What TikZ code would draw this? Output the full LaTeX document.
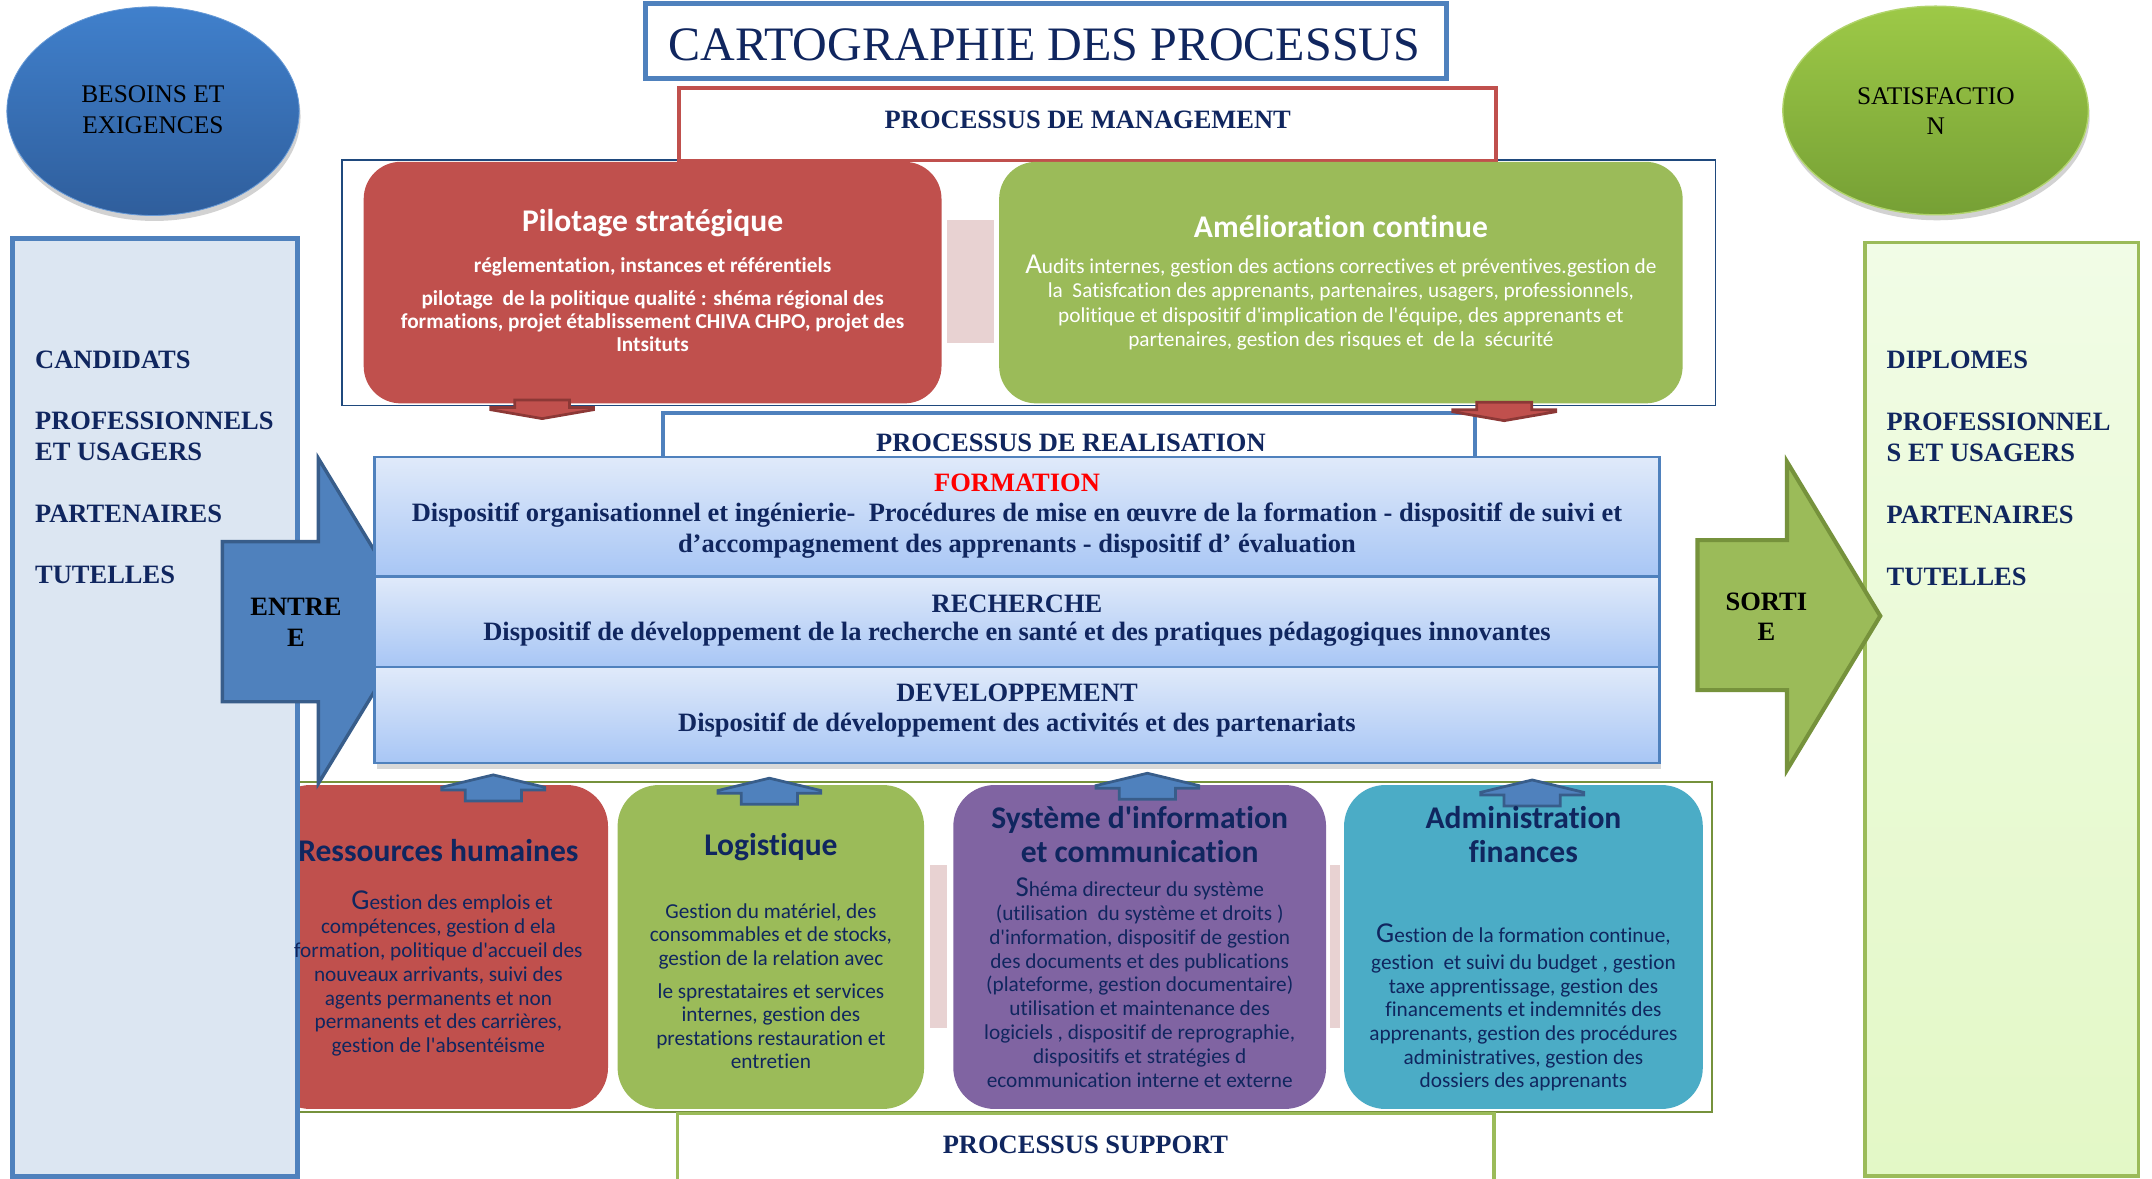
\documentclass[tikz,border=0pt]{standalone}
\usepackage{fontspec}
\setmainfont{Liberation Serif}
\newfontfamily\calfont[Ligatures={NoCommon}]{Carlito}
\usetikzlibrary{shadows,shapes.geometric}
\definecolor{cRed}{HTML}{C0504D}
\definecolor{cRedD}{HTML}{8C3836}
\definecolor{cGreen}{HTML}{9BBB59}
\definecolor{cGreenD}{HTML}{76923C}
\definecolor{cBlue}{HTML}{4F81BD}
\definecolor{cBlueD}{HTML}{385D8A}
\definecolor{cPurple}{HTML}{8064A2}
\definecolor{cTeal}{HTML}{4BACC6}
\definecolor{cPink}{HTML}{E8D2D2}
\definecolor{cNavy}{HTML}{10265F}
\definecolor{cFrame}{HTML}{1F497D}
\definecolor{cLeft}{HTML}{DCE6F2}
\definecolor{cRedT}{HTML}{FF0000}
\definecolor{cBandT}{HTML}{E0EAFA}
\definecolor{cBandB}{HTML}{A8C6F5}
\definecolor{cEllLT}{HTML}{4080CC}
\definecolor{cEllLB}{HTML}{2F5E9C}
\definecolor{cEllRT}{HTML}{9DC947}
\definecolor{cEllRB}{HTML}{76A035}
\definecolor{cRightT}{HTML}{F1FCE6}
\definecolor{cRightB}{HTML}{E3F8C6}
\newcommand\BigL[1]{{\fontsize{21}{17}\selectfont #1}}
\begin{document}
\begin{tikzpicture}[x=1pt,y=-1pt,
  box/.style={rectangle, inner sep=0pt, outer sep=0pt},
  rbox/.style={box, rounded corners=27pt, draw=none},
  bandbox/.style={box, draw=cBlue, line width=1.8pt, top color=cBandT, bottom color=cBandB, minimum width=936pt},
  hdr/.style={inner sep=0pt, font=\fontsize{19.3}{22.5}\selectfont\bfseries, text=cNavy},
  side/.style={inner sep=0pt, align=left, anchor=west, font=\fontsize{19.3}{22.5}\selectfont\bfseries, text=cNavy},
  elltxt/.style={inner sep=0pt, align=center, font=\fontsize{18.5}{22}\selectfont, text=black},
  arrtxt/.style={inner sep=0pt, align=center, font=\fontsize{19.3}{22.5}\selectfont\bfseries, text=black},
  ttlC/.style={inner sep=0pt, font=\calfont\fontsize{23}{24.8}\selectfont\bfseries, text height=17pt, text depth=5pt},
  ttlCC/.style={inner sep=0pt, align=center, font=\calfont\fontsize{23}{24.8}\selectfont\bfseries},
  redarr/.style={fill=cRed, draw=cRedD, line width=2pt, line join=miter},
  bluearr/.style={fill=cBlue, draw=cBlueD, line width=2pt, line join=miter},
  uparr/.pic={\draw[bluearr] (-20.5,8) -- (-20.5,0) -- (-37.5,0) -- (-37.5,-2) -- (0,-11) -- (37.5,-2) -- (37.5,0) -- (20.5,0) -- (20.5,8) -- cycle;},
  downarr/.pic={\draw[redarr] (-20,-5.5) -- (20,-5.5) -- (20,0) -- (37.5,0) -- (37.5,1.5) -- (0,8) -- (-37.5,1.5) -- (-37.5,0) -- (-20,0) -- cycle;}
]
\useasboundingbox (0,0) rectangle (1568,859);
\fill[white] (0,0) rectangle (1568,859);

% ellipses
\node[ellipse, inner sep=0pt, minimum width=213pt, minimum height=152pt, top color=cEllLT, bottom color=cEllLB, draw=cEllLT!80!white, line width=0.6pt, drop shadow={opacity=0.35, shadow xshift=1pt, shadow yshift=-4pt}] (besoins) at (111.5,81) {};
\node[ellipse, inner sep=0pt, minimum width=222.6pt, minimum height=152pt, top color=cEllRT, bottom color=cEllRB, draw=cEllRT!80!white, line width=1pt, drop shadow={opacity=0.35, shadow xshift=1pt, shadow yshift=-4pt}] (satisf) at (1410.3,80.5) {};

% title
\node[box, draw=cBlue, line width=3.6pt, fill=white, minimum width=584pt, minimum height=54.6pt] (titlebox) at (762,29.7) {};

% management
\node[box, draw=cFrame, line width=1.2pt, minimum width=1001pt, minimum height=179pt] (mgframe) at (749.5,206) {};
\node[box, draw=cRed, line width=2.8pt, fill=white, minimum width=595pt, minimum height=53pt] (mghead) at (792.5,90.5) {};
\node[rbox, fill=cRed, minimum width=421pt, minimum height=176pt] (pil) at (475.5,205.9) {};
\node[box, fill=cPink, minimum width=34pt, minimum height=90pt] (pinkT) at (707,205) {};
\node[rbox, fill=cGreen, minimum width=498pt, minimum height=176pt] (ame) at (977,205.9) {};

% realisation
\node[box, draw=cBlue, line width=3pt, fill=white, minimum width=592pt, minimum height=40pt] (realbox) at (779,320.7) {};
\pic at (395,297) {downarr};
\pic at (1096,298.5) {downarr};

% support
\node[box, draw=cGreenD, line width=1.4pt, minimum width=1035.7pt, minimum height=240.4pt] (supframe) at (729.85,689.8) {};
\node[rbox, rounded corners=30pt, fill=cRed, minimum width=247pt, minimum height=236pt] (rh) at (319.5,690) {};
\node[rbox, rounded corners=30pt, fill=cGreen, minimum width=223.3pt, minimum height=236pt] (logi) at (561.65,690) {};
\node[box, fill=cPink, minimum width=12.6pt, minimum height=119.3pt] (pinkS1) at (684,689.65) {};
\node[rbox, rounded corners=30pt, fill=cPurple, minimum width=271.6pt, minimum height=236pt] (si) at (830.4,690) {};
\node[box, fill=cPink, minimum width=7pt, minimum height=119.3pt] (pinkS2) at (972.5,689.65) {};
\node[rbox, rounded corners=30pt, fill=cTeal, minimum width=261.4pt, minimum height=236pt] (adm) at (1110,690) {};
\pic at (359.4,575.6) {uparr};
\pic at (560.6,578) {uparr};
\pic at (836,574.4) {uparr};
\pic at (1116.4,579.3) {uparr};

% side columns
\node[box, draw=cBlue, line width=3.6pt, fill=cLeft, minimum width=207.8pt, minimum height=683.4pt] (leftrect) at (113.1,515.3) {};
\node[box, draw=cGreen, line width=2.5pt, top color=cRightT, bottom color=cRightB, minimum width=199pt, minimum height=680.2pt] (rightrect) at (1458.5,516.9) {};

% entree arrow
\draw[fill=cBlue, draw=cBlueD, line width=2.5pt, line join=miter] (162,394.7) -- (232,394.7) -- (232,334) -- (304,452.6) -- (232,570.8) -- (232,511.3) -- (162,511.3) -- cycle;

% bands
\node[bandbox, minimum height=87pt] (band1) at (741,376.5) {};
\node[bandbox, minimum height=66pt] (band2) at (741,453) {};
\node[bandbox, minimum height=70pt, drop shadow={opacity=0.3, shadow xshift=1.5pt, shadow yshift=-4pt}] (band3) at (741,521) {};

% sortie arrow
\draw[fill=cGreen, draw=cGreenD, line width=3pt, line join=miter] (1236.8,393.5) -- (1302,393.5) -- (1302,336.4) -- (1370,448.8) -- (1302,561) -- (1302,502.8) -- (1236.8,502.8) -- cycle;

% support header
\draw[cGreen, line width=2.6pt] (493.7,870) |- (1088.6,811.2) -- (1088.6,870);

% ---------- texts ----------
\node[inner sep=0pt, font=\fontsize{35}{40}\selectfont, text=cNavy] (ttl) at (761,32.8) {CARTOGRAPHIE DES PROCESSUS};
\node[hdr] (mgT) at (792.6,87) {PROCESSUS DE MANAGEMENT};
\node[hdr] (reT) at (780.3,322.6) {PROCESSUS DE REALISATION};
\node[hdr] (suT) at (790.9,834.3) {PROCESSUS SUPPORT};

\node[elltxt] (beT) at (111.4,80) {BESOINS ET\\EXIGENCES};
\node[elltxt] (saT) at (1410.5,81) {SATISFACTIO\\N};

\node[side] (lT) at (25.4,340.6) {CANDIDATS\\[22pt]PROFESSIONNELS\\ET USAGERS\\[22.5pt]PARTENAIRES\\[22.5pt]TUTELLES};
\node[side] (rT) at (1374.5,341.2) {DIPLOMES\\[22.5pt]PROFESSIONNEL\\S ET USAGERS\\[22.5pt]PARTENAIRES\\[22.5pt]TUTELLES};

\node[arrtxt] (enT) at (215.7,453.5) {ENTRE\\E};
\node[arrtxt] (soT) at (1287,449.4) {SORTI\\E};

\node[inner sep=0pt, align=center, text=cNavy, font=\fontsize{19.3}{22}\selectfont\bfseries] (b1t) at (741,376) {\textcolor{cRedT}{FORMATION}\\Dispositif organisationnel et ingénierie-\ \ Procédures de mise en œuvre de la formation - dispositif de suivi et\\d’accompagnement des apprenants - dispositif d’ évaluation};
\node[inner sep=0pt, align=center, text=cNavy, font=\fontsize{19.3}{21}\selectfont\bfseries] (b2t) at (741,452.2) {RECHERCHE\\Dispositif de développement de la recherche en santé et des pratiques pédagogiques innovantes};
\node[inner sep=0pt, align=center, text=cNavy, font=\fontsize{19.3}{21.2}\selectfont\bfseries] (b3t) at (741,517.7) {DEVELOPPEMENT\\Dispositif de développement des activités et des partenariats};

% management texts
\node[ttlC, text=white] (pilT) at (475.5,163) {Pilotage stratégique};
\node[inner sep=0pt, font=\calfont\fontsize{15.5}{16.6}\selectfont\bfseries, text=white, text height=11.5pt, text depth=3.5pt] (pilA) at (475.5,194.5) {réglementation, instances et référentiels};
\node[inner sep=0pt, align=center, font=\calfont\fontsize{15.5}{16.6}\selectfont\bfseries, text=white] (pilB) at (475.5,234) {pilotage\ \ de la politique qualité : shéma régional des\\formations, projet établissement CHIVA CHPO, projet des\\Intsituts};
\node[ttlC, text=white] (ameT) at (977,167) {Amélioration continue};
\node[inner sep=0pt, align=center, font=\calfont\fontsize{15.5}{17.8}\selectfont, text=white] (ameB) at (977,220.5) {\BigL{A}udits internes, gestion des actions correctives et préventives.gestion de\\la\ \ Satisfcation des apprenants, partenaires, usagers, professionnels,\\politique et dispositif d'implication de l'équipe, des apprenants et\\partenaires, gestion des risques et\ \ de la\ \ sécurité};

% support texts
\node[ttlC, text=cNavy] (rhT) at (319.4,621.8) {Ressources humaines};
\node[inner sep=0pt, align=center, font=\calfont\fontsize{15.5}{17.33}\selectfont, text=cNavy] (rhB) at (319.4,709.5) {\hspace{20pt}\BigL{G}estion des emplois et\\compétences, gestion d ela\\formation, politique d'accueil des\\nouveaux arrivants, suivi des\\agents permanents et non\\permanents et des carrières,\\gestion de l'absentéisme};
\node[ttlC, text=cNavy] (logT) at (561.7,617.4) {Logistique};
\node[inner sep=0pt, align=center, font=\calfont\fontsize{15.5}{17}\selectfont, text=cNavy] (logB) at (561.7,718.5) {Gestion du matériel, des\\consommables et de stocks,\\gestion de la relation avec\\[7.3pt]le sprestataires et services\\internes, gestion des\\prestations restauration et\\entretien};
\node[ttlCC, text=cNavy] (siT) at (830.4,608) {Système d'information\\et communication};
\node[inner sep=0pt, align=center, font=\calfont\fontsize{15.5}{17.4}\selectfont, text=cNavy] (siB) at (830.4,716) {\BigL{S}héma directeur du système\\(utilisation\ \ du système et droits )\\d'information, dispositif de gestion\\des documents et des publications\\(plateforme, gestion documentaire)\\utilisation et maintenance des\\logiciels , dispositif de reprographie,\\dispositifs et stratégies d\\ecommunication interne et externe};
\node[ttlCC, text=cNavy] (admT) at (1110,608) {Administration\\finances};
\node[inner sep=0pt, align=center, font=\calfont\fontsize{15.5}{17.2}\selectfont, text=cNavy] (admB) at (1110,734) {\BigL{G}estion de la formation continue,\\[2.6pt]gestion\ \ et suivi du budget , gestion\\taxe apprentissage, gestion des\\financements et indemnités des\\apprenants, gestion des procédures\\administratives, gestion des\\dossiers des apprenants};
\end{tikzpicture}
\end{document}
